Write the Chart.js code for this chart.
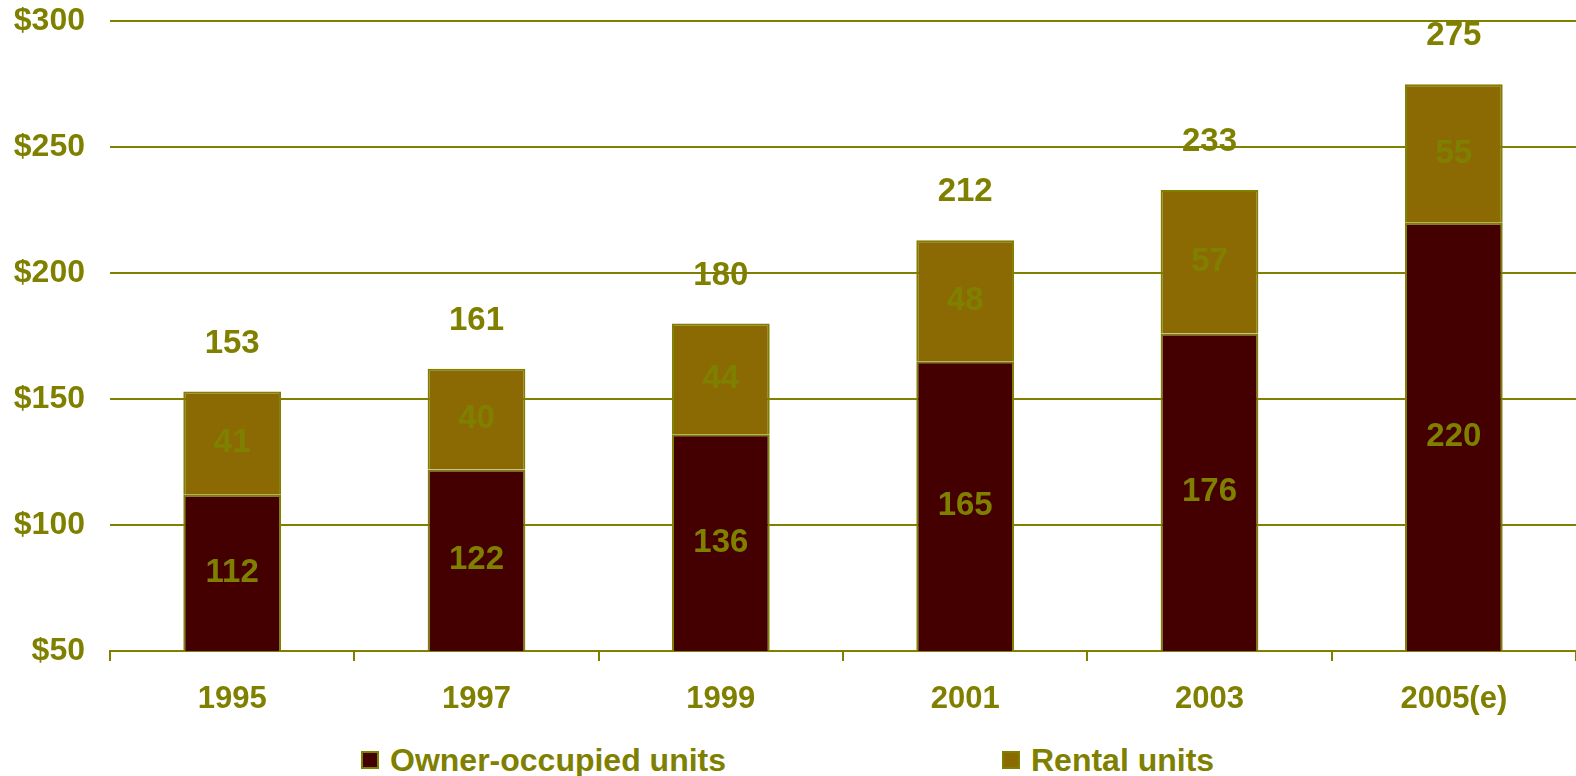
<!DOCTYPE html>
<html>
<head>
<meta charset="utf-8">
<script src="https://cdn.jsdelivr.net/npm/chart.js@4.4.0/dist/chart.umd.min.js"></script>
<style>
  html, body { margin: 0; padding: 0; background: #fff; overflow: hidden; }
  #wrap { position: relative; width: 1576px; height: 776px; overflow: hidden; }
  #chart { position: absolute; left: 0; top: -23px; }
  .legend { position: absolute; top: 742px; height: 36px; display: flex; align-items: center;
    font: bold 32px "Liberation Sans", Arial, sans-serif; color: #808000; }
  .legend span.box { display: inline-block; width: 18px; height: 18px; margin-right: 11px;
    border: 2px solid #808000; box-sizing: border-box; }
</style>
</head>
<body>
<div id="wrap">
  <canvas id="chart" width="1576" height="748"></canvas>
  <div class="legend" style="left:361px"><span class="box" style="background:#440000"></span>Owner-occupied units</div>
  <div class="legend" style="left:1002px"><span class="box" style="background:#8c6a03"></span>Rental units</div>
</div>
<script>
const years = ['1995', '1997', '1999', '2001', '2003', '2005(e)'];
const owner = [112, 122, 136, 165, 176, 220];
const rental = [41, 40, 44, 48, 57, 55];
const totals = [153, 161, 180, 212, 233, 275];

const olive = '#808000';
const boldFont = '"Liberation Sans", Arial, sans-serif';

const valueLabels = {
  id: 'valueLabels',
  afterDatasetsDraw(chart) {
    const ctx = chart.ctx;
    const bottom = chart.chartArea.bottom;
    ctx.save();
    ctx.font = 'bold 33px ' + boldFont;
    ctx.fillStyle = olive;
    ctx.textAlign = 'center';
    ctx.textBaseline = 'middle';
    chart.data.datasets.forEach((ds, i) => {
      chart.getDatasetMeta(i).data.forEach((bar, j) => {
        const base = Math.min(bar.base, bottom);
        ctx.fillText(String(ds.data[j]), bar.x, (bar.y + base) / 2);
      });
    });
    const top = chart.getDatasetMeta(1).data;
    top.forEach((bar, j) => {
      ctx.fillText(String(totals[j]), bar.x, bar.y - 48);
    });
    ctx.restore();
  }
};

new Chart(document.getElementById('chart'), {
  type: 'bar',
  data: {
    labels: years,
    datasets: [{
      label: 'Owner-occupied units',
      data: owner,
      backgroundColor: '#440000',
      borderColor: olive,
      borderWidth: 2
    }, {
      label: 'Rental units',
      data: rental,
      backgroundColor: '#8c6a03',
      borderColor: olive,
      borderWidth: 2
    }]
  },
  options: {
    responsive: false,
    animation: false,
    layout: { padding: 0 },
    datasets: { bar: { categoryPercentage: 1, barPercentage: 0.4 } },
    plugins: { legend: { display: false }, tooltip: { enabled: false } },
    scales: {
      x: {
        stacked: true,
        afterFit: s => { s.height = 74; },
        border: { display: true, color: olive, width: 2 },
        grid: { display: true, offset: true, drawOnChartArea: false, drawTicks: true, tickLength: 10, color: olive, lineWidth: 2 },
        ticks: { color: olive, padding: 20, font: { family: boldFont, size: 31, weight: 'bold' } }
      },
      y: {
        stacked: true,
        min: 50,
        max: 300,
        afterFit: s => { s.width = 110; },
        border: { display: false },
        grid: { color: olive, lineWidth: 2, drawTicks: false },
        ticks: {
          stepSize: 50,
          color: olive,
          padding: 25,
          font: { family: boldFont, size: 32, weight: 'bold' },
          callback: v => '$' + v
        }
      }
    }
  },
  plugins: [valueLabels]
});
</script>
</body>
</html>
